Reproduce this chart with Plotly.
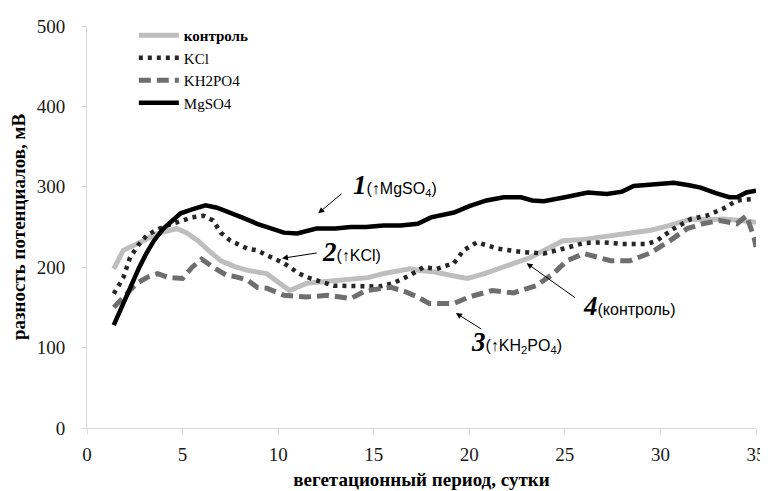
import plotly.graph_objects as go

# ---- data ----
days_control = [1.4, 1.9, 2.6, 3.2, 3.7, 4.2, 4.7, 5.2, 5.8, 6.4, 7.0, 7.7, 8.4, 9.4, 10.0, 10.6, 11.5, 12.5,
                13.8, 14.7, 15.5, 16.2, 16.9, 17.4, 18.2, 19.0, 19.9, 20.8, 21.8, 22.5, 23.2, 24.0, 24.9, 25.8,
                26.7, 27.6, 28.5, 29.5, 30.5, 31.6, 32.5, 33.3, 34.2, 35.0]
control = [198, 221, 229, 236, 242, 245, 248, 243, 233, 220, 208, 201, 196, 192, 182, 171, 180, 182,
           184, 187, 192, 195, 198, 196, 194, 190, 186, 192, 200, 205, 212, 222, 233, 234,
           237, 240, 242, 246, 252, 260, 259, 260, 258, 256]

days_kcl = [1.4, 1.9, 2.25, 2.7, 3.1, 3.6, 4.2, 4.8, 5.5, 6.1, 6.6, 7.0, 7.5, 8.4, 8.9, 9.4, 10.3, 11.1,
            11.7, 12.9, 13.8, 14.6, 15.3, 16.0, 16.9, 17.6, 18.3, 19.2, 19.7, 20.4, 21.5, 22.7, 23.9, 24.9,
            26.0, 27.0, 28.0, 29.3, 29.8, 30.7, 31.6, 32.4, 33.3, 34.0, 34.9]
kcl = [167, 187, 212, 228, 239, 246, 252, 257, 262, 264, 258, 243, 233, 223, 221, 215, 205, 192,
       186, 177, 177, 177, 176, 180, 190, 200, 198, 205, 221, 231, 223, 219, 217, 223,
       230, 231, 229, 229, 233, 248, 260, 264, 273, 283, 285]

days_kh2po4 = [1.4, 1.9, 2.6, 3.2, 3.7, 4.3, 5.0, 5.5, 6.0, 6.6, 7.3, 7.8, 8.4, 8.9, 9.4, 10.3, 11.5, 12.6,
               13.8, 14.6, 15.2, 15.9, 16.6, 17.3, 17.9, 18.6, 19.2, 20.0, 21.2, 22.3, 23.5, 24.4, 25.1, 26.0,
               26.8, 27.4, 28.4, 29.5, 30.5, 31.4, 32.2, 33.1, 34.0, 34.5, 34.9, 35.0]
kh2po4 = [150, 163, 180, 188, 192, 187, 186, 200, 210, 200, 190, 188, 184, 175, 174, 165, 163, 165,
          161, 171, 173, 175, 170, 163, 155, 155, 155, 163, 171, 168, 177, 192, 208, 217,
          211, 208, 208, 218, 233, 248, 254, 258, 254, 264, 237, 225]

days_mgso4 = [1.4, 1.8, 2.25, 2.7, 3.1, 3.5, 4.0, 4.5, 4.9, 5.5, 6.2, 6.8, 7.5, 8.2, 8.9, 9.6, 10.3, 11.0,
              12.0, 13.0, 13.8, 14.6, 15.5, 16.4, 17.3, 18.0, 19.2, 20.0, 20.9, 21.8, 22.7, 23.3, 23.9, 25.0,
              26.2, 27.2, 28.0, 28.6, 29.5, 30.7, 31.5, 32.1, 32.9, 33.6, 34.0, 34.5, 35.0]
mgso4 = [128, 150, 175, 198, 217, 233, 248, 259, 267, 272, 277, 274, 268, 261, 254, 248, 243, 242,
         248, 248, 250, 250, 252, 252, 254, 262, 268, 276, 283, 287, 287, 283, 282, 287,
         293, 291, 294, 301, 303, 305, 302, 299, 292, 287, 287, 293, 295]

x_ticks = [0, 5, 10, 15, 20, 25, 30, 35]
y_ticks = [0, 100, 200, 300, 400, 500]

SERIF = "Liberation Serif"
SANS = "Liberation Sans"

fig = go.Figure()
fig.add_trace(go.Scatter(x=days_control, y=control, mode="lines", name="<b>контроль</b>",
                         line=dict(color="#BEBEBE", width=5)))
fig.add_trace(go.Scatter(x=days_kcl, y=kcl, mode="lines", name="KCl",
                         line=dict(color="#262626", width=4.5, dash="4px,5px")))
fig.add_trace(go.Scatter(x=days_kh2po4, y=kh2po4, mode="lines", name="KH2PO4",
                         line=dict(color="#6E6E6E", width=5, dash="12px,6px")))
fig.add_trace(go.Scatter(x=days_mgso4, y=mgso4, mode="lines", name="MgSO4",
                         line=dict(color="#000000", width=4.5)))

# arrows (tail -> head in data coordinates)
arrows = [
    ((13.4, 293), (12.1, 267)),
    ((12.1, 218), (10.2, 211)),
    ((20.7, 122), (19.3, 143)),
    ((25.6, 161), (23.0, 205)),
]
for (tx, ty), (hx, hy) in arrows:
    fig.add_annotation(x=hx, y=hy, ax=tx, ay=ty, xref="x", yref="y", axref="x", ayref="y",
                       text="", showarrow=True, arrowhead=2, arrowsize=1.2, arrowwidth=1,
                       arrowcolor="#000000")

def lab(num, rest):
    return (f'<span style="font-family:{SERIF};font-size:27px;font-weight:bold;font-style:italic">{num}</span>'
            f'<span style="font-family:{SANS};font-size:16px">{rest}</span>')

labels = [
    (13.8, 302, lab("1", "(↑MgSO<sub>4</sub>)")),
    (12.2, 219, lab("2", "(↑KCl)")),
    (20.0, 107, lab("3", "(↑KH<sub>2</sub>PO<sub>4</sub>)")),
    (25.85, 152, lab("4", "(контроль)")),
]
for x, y, t in labels:
    fig.add_annotation(x=x, y=y, xref="x", yref="y", text=t, showarrow=False,
                       xanchor="left", yanchor="middle", font=dict(color="#000000"))

# page body has an 8px margin, so the figure is 8px smaller than the window
fig.update_layout(
    width=760, height=483,
    margin=dict(l=79, r=12, t=17, b=63),
    paper_bgcolor="white", plot_bgcolor="white",
    showlegend=True,
    legend=dict(x=0.07, y=1.015, xanchor="left", yanchor="top",
                font=dict(family=SERIF, size=15, color="#000000"),
                bgcolor="rgba(0,0,0,0)", tracegroupgap=0, itemwidth=40),
    xaxis=dict(range=[0, 35], tickvals=x_ticks, showgrid=False, zeroline=False,
               showline=True, linecolor="#D9D9D9", linewidth=1,
               ticks="outside", ticklen=5, tickcolor="#D9D9D9", automargin=False,
               ticklabelstandoff=4,
               tickfont=dict(family=SERIF, size=19, color="#1a1a1a"),
               title=dict(text="<b>вегетационный период, сутки</b>",
                          font=dict(family=SERIF, size=19, color="#000000"), standoff=8)),
    yaxis=dict(range=[0, 500], tickvals=y_ticks, showgrid=False, zeroline=False,
               showline=True, linecolor="#D9D9D9", linewidth=1,
               ticks="outside", ticklen=5, tickcolor="#D9D9D9", automargin=False,
               ticklabelstandoff=12,
               tickfont=dict(family=SERIF, size=19, color="#1a1a1a"),
               title=dict(text="<b>разность потенциалов, мВ</b>",
                          font=dict(family=SERIF, size=19, color="#000000"), standoff=8)),
)

fig.write_html("out.html")
